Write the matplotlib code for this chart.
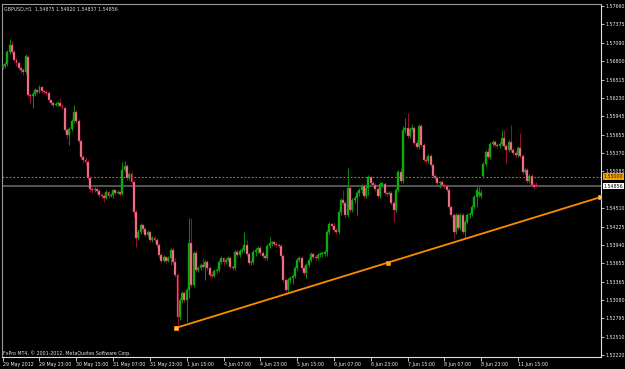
import matplotlib
matplotlib.use("Agg")
import matplotlib.pyplot as plt
from matplotlib import font_manager as fm
import numpy as np

# ---------------- data (GBPUSD H1, prices in pips above 1.5200) ----------------
BASE = 1.5200
opens_pips = [471,473,476,494,505,494,482,477,469,466,
 463,487,427,426,429,435,432,440,434,432,
 431,420,415,412,413,415,410,407,373,365,
 374,387,401,387,356,331,326,323,298,281,
 280,281,278,272,270,267,276,270,272,280,
 275,276,273,311,317,298,304,292,245,205,
 214,225,219,209,214,202,205,202,194,178,
 169,175,169,174,186,167,147,82,108,119,
 108,124,197,132,181,155,158,163,160,167,
 158,147,146,153,155,167,174,167,171,174,
 160,158,183,178,185,186,194,180,166,167,
 183,186,189,181,177,174,192,197,198,195,
 194,192,177,139,124,139,142,146,158,171,
 174,158,150,163,171,180,175,174,178,180,
 180,183,214,227,223,217,214,245,264,259,
 241,283,248,264,267,275,280,286,270,283,
 300,290,287,281,270,286,289,275,273,275,
 259,248,280,308,294,373,376,364,374,376,
 353,346,379,350,326,325,332,318,301,298,
 290,292,287,286,280,253,241,214,241,220,
 241,214,230,241,242,253,269,272,270,301,
 320,339,331,351,354,350,348,351,360,348,
 342,354,342,337,334,345,332,308,311,294,
 301,287,287.5]
closes_pips = [473,476,494,505,494,482,477,469,466,463,
 488,427,426,429,435,432,440,434,432,431,
 420,415,412,413,415,410,409,373,365,374,
 387,401,387,356,331,326,323,298,281,280,
 281,278,272,270,267,276,270,272,280,275,
 276,273,311,317,298,304,292,245,205,214,
 225,219,209,214,202,205,202,194,178,169,
 175,169,174,186,167,147,82,108,119,108,
 124,197,132,181,155,158,163,160,167,158,
 147,146,153,155,167,174,167,171,174,160,
 158,183,178,185,186,194,180,166,167,183,
 186,189,181,177,174,192,197,198,195,194,
 192,177,139,124,139,142,146,158,171,174,
 158,150,163,171,180,175,174,178,180,181,
 183,214,227,223,217,214,245,264,259,241,
 283,248,264,267,275,280,286,270,283,300,
 290,287,281,270,289,290,275,273,275,259,
 248,280,308,294,373,376,364,374,376,353,
 346,379,350,326,325,332,318,301,298,290,
 292,287,286,280,253,241,214,241,220,241,
 214,230,241,242,253,269,280,276,275,320,
 339,331,351,354,350,348,351,360,348,342,
 354,342,337,334,345,332,308,311,294,301,
 287,284,285.6]
highs_pips = [476,479,497,515,511,497,485,480,473,469,
 491,490,431,432,438,437,443,441,435,435,
 434,421,418,417,418,423,413,410,376,378,
 390,412,404,390,359,334,331,326,301,284,
 284,283,281,275,273,280,278,275,281,281,
 280,278,323,325,320,308,308,295,248,219,
 228,227,222,217,216,208,208,205,197,181,
 178,177,177,189,191,174,150,111,122,122,
 127,236,236,185,186,161,166,174,171,171,
 161,152,157,158,171,177,175,174,177,177,
 163,186,186,188,189,214,202,183,171,186,
 189,192,192,185,180,195,206,200,200,198,
 197,195,180,142,142,146,149,161,174,177,
 177,161,166,174,183,181,178,181,183,185,
 186,217,230,228,228,220,248,267,280,262,
 314,286,267,270,278,283,289,289,286,303,
 301,294,290,284,292,292,292,278,278,278,
 262,283,311,314,379,392,399,378,382,379,
 357,382,382,353,329,336,336,322,304,301,
 294,295,290,289,283,256,243,243,243,243,
 243,233,243,245,256,272,284,284,280,323,
 342,345,354,357,357,353,354,373,373,351,
 357,381,345,340,348,368,336,314,314,304,
 304,290,292.0]
lows_pips = [468,469,473,491,491,479,473,466,462,459,
 460,424,415,407,426,429,431,431,429,427,
 417,412,409,410,410,409,406,370,360,350,
 371,384,384,353,328,322,318,295,276,275,
 276,275,269,267,261,266,267,269,267,272,
 273,270,272,308,295,295,289,237,191,202,
 211,214,206,206,199,199,199,191,175,166,
 167,166,167,163,164,144,66,77,104,105,
 74,111,129,129,152,152,155,157,139,155,
 144,143,144,150,152,164,163,164,167,157,
 155,155,175,175,181,183,177,163,163,164,
 177,181,178,174,170,170,189,192,192,191,
 189,174,136,121,121,135,133,142,155,167,
 155,147,142,160,167,172,170,170,175,175,
 177,177,211,220,214,211,211,241,256,237,
 237,245,245,259,241,270,275,267,267,272,
 287,284,278,267,267,284,272,270,272,256,
 230,245,276,290,290,368,360,360,371,350,
 343,343,346,323,322,322,315,298,295,287,
 283,284,283,276,250,237,205,211,217,217,
 211,205,227,236,239,250,253,269,267,298,
 317,328,328,348,346,345,345,348,345,322,
 339,339,334,331,331,329,304,304,290,290,
 284,281,283.7]

x_tick_bars = [0, 16, 32, 48, 64, 80, 96, 112, 128, 144, 160, 176, 192, 208, 224]
x_tick_labels = ["29 May 2012", "29 May 23:00", "30 May 15:00", "31 May 07:00",
                 "31 May 23:00", "1 Jun 15:00", "4 Jun 07:00", "4 Jun 23:00",
                 "5 Jun 15:00", "6 Jun 07:00", "6 Jun 23:00", "7 Jun 15:00",
                 "8 Jun 07:00", "8 Jun 23:00", "11 Jun 15:00"]
y_ticks = [1.57660, 1.57375, 1.57090, 1.56800, 1.56515, 1.56230, 1.55945,
           1.55655, 1.55370, 1.55085, 1.54510, 1.54225, 1.53940,
           1.53655, 1.53365, 1.53080, 1.52795, 1.52510, 1.52220]

level_price = 1.55000
bid_price = 1.54856
trend_bars = [75.5, 167.5, 259.5]
trend_prices = [1.52650, 1.53665, 1.54680]
title_text = "GBPUSD,H1  1.54875 1.54920 1.54837 1.54856"
copyright_text = "FxPro MT4, \u00a9 2001-2012, MetaQuotes Software Corp."

# ---------------- fonts ----------------
names = {f.name for f in fm.fontManager.ttflist}
if "Liberation Sans Narrow" in names:
    FONT, FS = "Liberation Sans Narrow", 4.65
else:
    FONT, FS = "DejaVu Sans", 3.45
plt.rcParams["font.family"] = [FONT, "DejaVu Sans"]

# ---------------- figure ----------------
W, H = 625, 369
fig = plt.figure(figsize=(W / 100, H / 100), dpi=100, facecolor="black")
ax = fig.add_axes([2 / W, (H - 357) / H, 599 / W, 353 / H])
ax.set_facecolor("black")

o = BASE + np.array(opens_pips) / 10000.0
c = BASE + np.array(closes_pips) / 10000.0
h = BASE + np.array(highs_pips) / 10000.0
l = BASE + np.array(lows_pips) / 10000.0
x = np.arange(len(o))
up = c >= o

# wicks
ax.vlines(x[up], l[up], h[up], color="#0a900a", lw=0.7, zorder=2)
ax.vlines(x[~up], l[~up], h[~up], color="#9a1034", lw=0.7, zorder=2)
# bodies
bot = np.minimum(o, c)
hgt = np.maximum(np.abs(c - o), 0.00006)
ax.bar(x[up], hgt[up], bottom=bot[up], width=0.85, color="#10b010",
       edgecolor="#0a9a0a", linewidth=0.3, zorder=3)
ax.bar(x[~up], hgt[~up], bottom=bot[~up], width=0.85, color="#f0909f",
       edgecolor="#c01840", linewidth=0.35, zorder=3)

# horizontal lines
ax.axhline(level_price, color="#c87a00", lw=0.8, ls=(0, (1.5, 1.8)), zorder=1)
ax.axhline(bid_price, color="#5c5c5c", lw=1.3, zorder=1)

# trend line
ax.plot(trend_bars, trend_prices, color="#ff8c00", lw=1.3, zorder=4)
ax.plot([trend_bars[0], trend_bars[-1]], [trend_prices[0], trend_prices[-1]], ls="none",
        marker="s", ms=3.2, mfc="#ffc070", mec="#ff8c00", mew=0.6, zorder=5)
ax.plot([trend_bars[1]], [trend_prices[1]], ls="none", marker="s", ms=2.6,
        mfc="#ffa020", mec="#ff8c00", mew=0.5, zorder=5)

# limits
ax.set_xlim(-0.3, 260.1)
ax.set_ylim(1.52195, 1.57691)

# axes styling
for s in ["left", "top"]:
    ax.spines[s].set_color("#9a9a9a")
    ax.spines[s].set_linewidth(0.8)
for s in ["right", "bottom"]:
    ax.spines[s].set_color("#e0e0e0")
    ax.spines[s].set_linewidth(0.8)

ax.yaxis.tick_right()
ax.set_yticks(y_ticks)
ax.set_yticklabels(["%.5f" % v for v in y_ticks])
ax.tick_params(axis="y", colors="#e0e0e0", length=2.5, width=0.6, pad=1.0,
               labelsize=FS, labelcolor="#ececec")
ax.set_xticks(x_tick_bars)
ax.set_xticklabels(x_tick_labels)
for t in ax.get_xticklabels():
    t.set_horizontalalignment("left")
ax.tick_params(axis="x", colors="#e0e0e0", length=3, width=0.6, pad=0.8,
               labelsize=FS, labelcolor="#ececec")

# price boxes on the right axis
ytr = ax.get_yaxis_transform()
ax.text(1.004, level_price, "%.5f" % level_price, transform=ytr, ha="left", va="center",
        fontsize=FS, color="#3a2000", clip_on=False,
        bbox=dict(boxstyle="square,pad=0.18", fc="#f0a000", ec="none"))
ax.text(1.004, bid_price, "%.5f" % bid_price, transform=ytr, ha="left", va="center",
        fontsize=FS, color="black", clip_on=False,
        bbox=dict(boxstyle="square,pad=0.18", fc="white", ec="none"))

# texts
ax.text(0.004, 0.993, title_text, transform=ax.transAxes, ha="left", va="top",
        fontsize=FS, color="#d8d8d8")
ax.text(0.001, 0.004, copyright_text, transform=ax.transAxes, ha="left", va="bottom",
        fontsize=FS, color="#e6e6e6")

fig.savefig("out.png", dpi=100, facecolor="black")
